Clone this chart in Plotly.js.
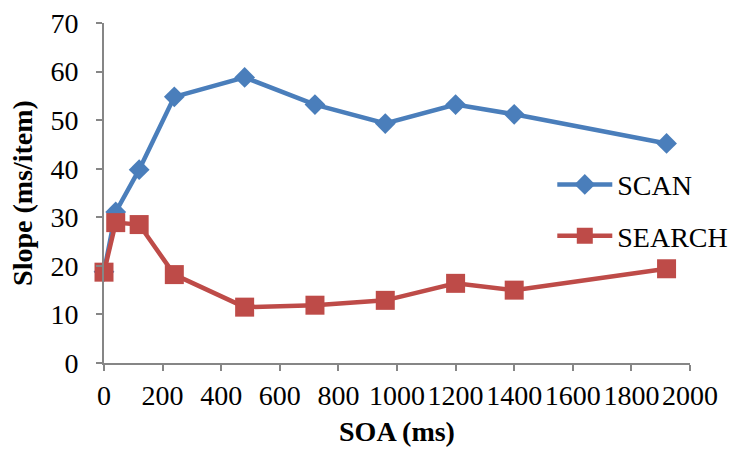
<!DOCTYPE html>
<html>
<head>
<meta charset="utf-8">
<script src="https://cdn.plot.ly/plotly-3.0.1.min.js"></script>
<style>
  html, body { margin: 0; padding: 0; background: #ffffff; }
  #chart { width: 735px; height: 454px; }
</style>
</head>
<body>
<div id="chart"></div>
<script>
// Stimulus onset asynchrony (ms) and search slopes (ms/item)
const soa = [0, 40, 120, 240, 480, 720, 960, 1200, 1400, 1920];
const scanSlope = [18.8, 31.1, 39.8, 54.8, 58.8, 53.2, 49.3, 53.2, 51.2, 45.2];
const searchSlope = [18.7, 28.9, 28.5, 18.2, 11.5, 11.9, 12.9, 16.4, 15.0, 19.4];
const xTicks = [0, 200, 400, 600, 800, 1000, 1200, 1400, 1600, 1800, 2000];
const yTicks = [0, 10, 20, 30, 40, 50, 60, 70];

const serif = '"Liberation Serif", "Times New Roman", serif';
const axisGrey = '#868686';
const textFont = { family: serif, size: 28, color: '#000000' };

const traces = [
  {
    x: soa, y: scanSlope, name: 'SCAN', type: 'scatter', mode: 'lines+markers',
    legendgroup: 'scan', cliponaxis: false,
    line: { color: '#4a7ebb', width: 4.5 },
    marker: { symbol: 'diamond', size: 16, color: '#4a7ebb' }
  },
  {
    x: soa, y: searchSlope, name: 'SEARCH', type: 'scatter', mode: 'lines+markers',
    legendgroup: 'search', cliponaxis: false,
    line: { color: '#be4b48', width: 4.5 },
    marker: { symbol: 'square', size: 19, color: '#be4b48' }
  }
];

const layout = {
  width: 735, height: 454,
  margin: { l: 104, r: 45, t: 23, b: 91, autoexpand: false },
  paper_bgcolor: '#ffffff', plot_bgcolor: '#ffffff',
  font: textFont,
  showlegend: true,
  legend: {
    x: 0.765, y: 0.598, xanchor: 'left', yanchor: 'top',
    bgcolor: 'rgba(0,0,0,0)', itemwidth: 55, traceorder: 'grouped', tracegroupgap: 12,
    font: textFont
  },
  xaxis: {
    range: [0, 2000], tickvals: xTicks, ticktext: xTicks.map(String), tickangle: 0,
    showgrid: false, zeroline: false, showline: true, linecolor: axisGrey, linewidth: 2,
    ticks: 'outside', ticklen: 6, tickwidth: 2, tickcolor: axisGrey,
    tickfont: textFont,
    title: { text: '<b>SOA (ms)</b>', font: textFont, standoff: 12 }
  },
  yaxis: {
    range: [0, 70], tickvals: yTicks, ticktext: yTicks.map(String),
    showgrid: false, zeroline: false, showline: true, linecolor: axisGrey, linewidth: 2,
    ticks: 'outside', ticklen: 6, tickwidth: 2, tickcolor: axisGrey,
    tickfont: textFont, ticklabelstandoff: 12,
    title: { text: '<b>Slope (ms/item)</b>', font: textFont, standoff: 10 }
  }
};

Plotly.newPlot('chart', traces, layout, { displayModeBar: false, staticPlot: true });
</script>
</body>
</html>
